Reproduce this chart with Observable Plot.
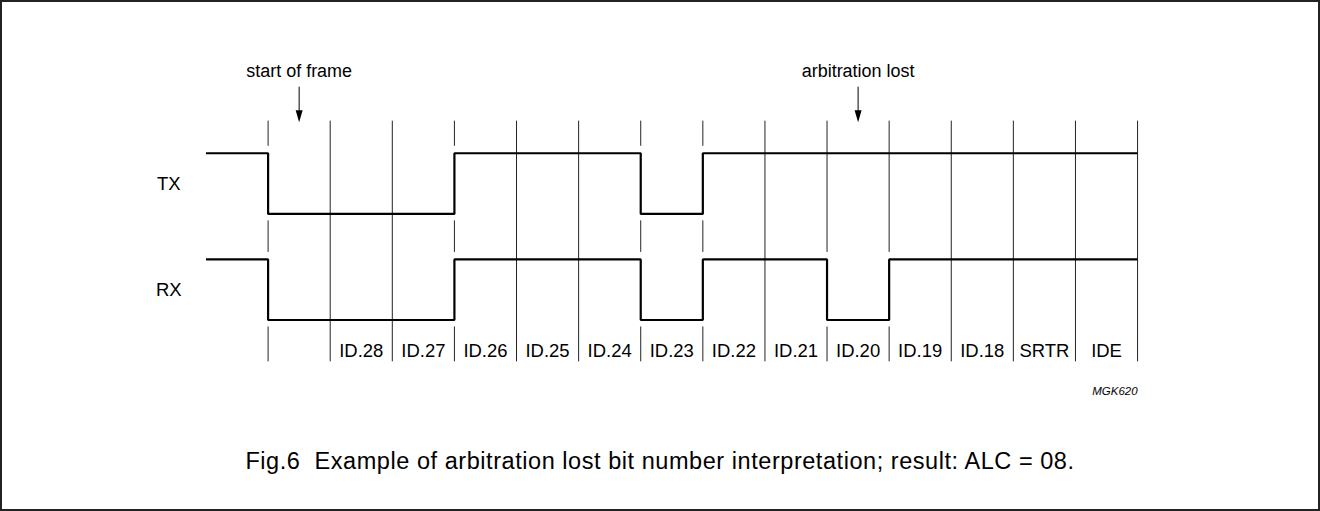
<!DOCTYPE html>
<html>
<head>
<meta charset="utf-8">
<script src="https://cdn.jsdelivr.net/npm/d3@7"></script>
<script src="https://cdn.jsdelivr.net/npm/@observablehq/plot@0.6"></script>
<style>
  html, body { margin: 0; padding: 0; background: #fff; }
  #frame { position: relative; width: 1320px; height: 511px; box-sizing: border-box; border: 2px solid #222; overflow: hidden;
           font-family: "Liberation Sans", Arial, Helvetica, sans-serif; }
  #chart { position: absolute; left: -2px; top: -2px; }
  #caption { position: absolute; left: -2px; width: 1320px; top: 447px; text-align: center;
             font-size: 23.5px; line-height: 24px; letter-spacing: 0.55px; color: #000; white-space: pre; }
</style>
</head>
<body>
<div id="frame">
  <div id="chart"></div>
  <div id="caption"></div>
</div>
<script>
// ---- data ----
const bitNames = ["SOF", "ID.28", "ID.27", "ID.26", "ID.25", "ID.24", "ID.23", "ID.22", "ID.21", "ID.20", "ID.19", "ID.18", "SRTR", "IDE"];
const fieldLabels = ["", "ID.28", "ID.27", "ID.26", "ID.25", "ID.24", "ID.23", "ID.22", "ID.21", "ID.20", "ID.19", "ID.18", "SRTR", "IDE"];
const signals = ["TX", "RX"];
const txBits = [0, 0, 0, 1, 1, 1, 0, 1, 1, 1, 1, 1, 1, 1];
const rxBits = [0, 0, 0, 1, 1, 1, 0, 1, 1, 0, 1, 1, 1, 1];
const idleLevel = 1;
const annotations = [
  { text: "start of frame", bit: 0 },
  { text: "arbitration lost", bit: 9 }
];
const figureId = "MGK620";
const captionText = "Fig.6  Example of arbitration lost bit number interpretation; result: ALC = 08.";

// ---- layout (in scale units) ----
const rowBase = { TX: 1.75, RX: 0 };
const bitsBySignal = { TX: txBits, RX: rxBits };
const gridTop = 3.28, gridBottom = -0.69, gapPad = 0.115;
const labelY = -0.61, annoY = 4.0, arrowTop = 3.84, arrowHeadY = 3.36, arrowShaftEnd = 3.40;
const idY = -1.235, signalLabelX = -1.6;
const nBits = bitNames.length;

// waveform points
const wave = [];
for (const s of signals) {
  const b = bitsBySignal[s];
  wave.push({ signal: s, t: -1, y: rowBase[s] + idleLevel });
  b.forEach((v, i) => wave.push({ signal: s, t: i, y: rowBase[s] + v }));
  wave.push({ signal: s, t: nBits, y: rowBase[s] + b[b.length - 1] });
}

// bit boundary lines, broken where a signal toggles
const grid = [];
for (let t = 0; t <= nBits; t++) {
  const gaps = [];
  for (const s of signals) {
    const b = bitsBySignal[s];
    const prev = t === 0 ? idleLevel : b[t - 1];
    const cur = t < nBits ? b[t] : prev;
    if (prev !== cur) gaps.push([rowBase[s] + 1 + gapPad, rowBase[s] - gapPad]);
  }
  gaps.sort((a, b) => b[0] - a[0]);
  let top = gridTop;
  for (const [g1, g2] of gaps) { grid.push({ t, y1: top, y2: g1 }); top = g2; }
  grid.push({ t, y1: top, y2: gridBottom });
}

const labels = fieldLabels.map((l, i) => ({ t: i + 0.5, text: l })).filter(d => d.text);
const annos = annotations.map(a => ({ ...a, t: a.bit + 0.5 }));

const arrowHead = {
  draw(context) {
    context.moveTo(0, 6);
    context.lineTo(-3.5, -6);
    context.lineTo(3.5, -6);
    context.closePath();
  }
};

const font = "Liberation Sans, Arial, Helvetica, sans-serif";

const chart = Plot.plot({
  width: 1320,
  height: 430,
  margin: 0,
  x: { domain: [0, nBits], range: [268, 1138.8], axis: null },
  y: { domain: [0, 2.75], range: [320, 153], axis: null },
  style: { background: "transparent", fontFamily: font, color: "#000" },
  marks: [
    Plot.ruleX(grid, { x: "t", y1: "y1", y2: "y2", stroke: "#222", strokeWidth: 1 }),
    Plot.line(wave, { x: "t", y: "y", z: "signal", curve: "step-after", stroke: "#000", strokeWidth: 2.2, strokeLinejoin: "miter", strokeLinecap: "butt" }),
    Plot.text(signals, { x: signalLabelX, y: d => rowBase[d] + 0.5, text: d => d, fontSize: 18.5, fill: "#000" }),
    Plot.text(labels, { x: "t", y: labelY, text: "text", fontSize: 18.5, lineAnchor: "bottom", fill: "#000" }),
    Plot.text(annos, { x: "t", y: annoY, text: "text", fontSize: 18, lineAnchor: "bottom", fill: "#000" }),
    Plot.ruleX(annos, { x: "t", y1: arrowTop, y2: arrowShaftEnd, stroke: "#000", strokeWidth: 1 }),
    Plot.dot(annos, { x: "t", y: arrowHeadY, symbol: arrowHead, fill: "#000", stroke: "none", r: 4 }),
    Plot.text([figureId], { x: nBits, y: idY, text: d => d, textAnchor: "end", lineAnchor: "bottom", fontSize: 11.5, fontStyle: "italic", fill: "#000" })
  ]
});
document.getElementById("chart").appendChild(chart);
document.getElementById("caption").textContent = captionText;
</script>
</body>
</html>
